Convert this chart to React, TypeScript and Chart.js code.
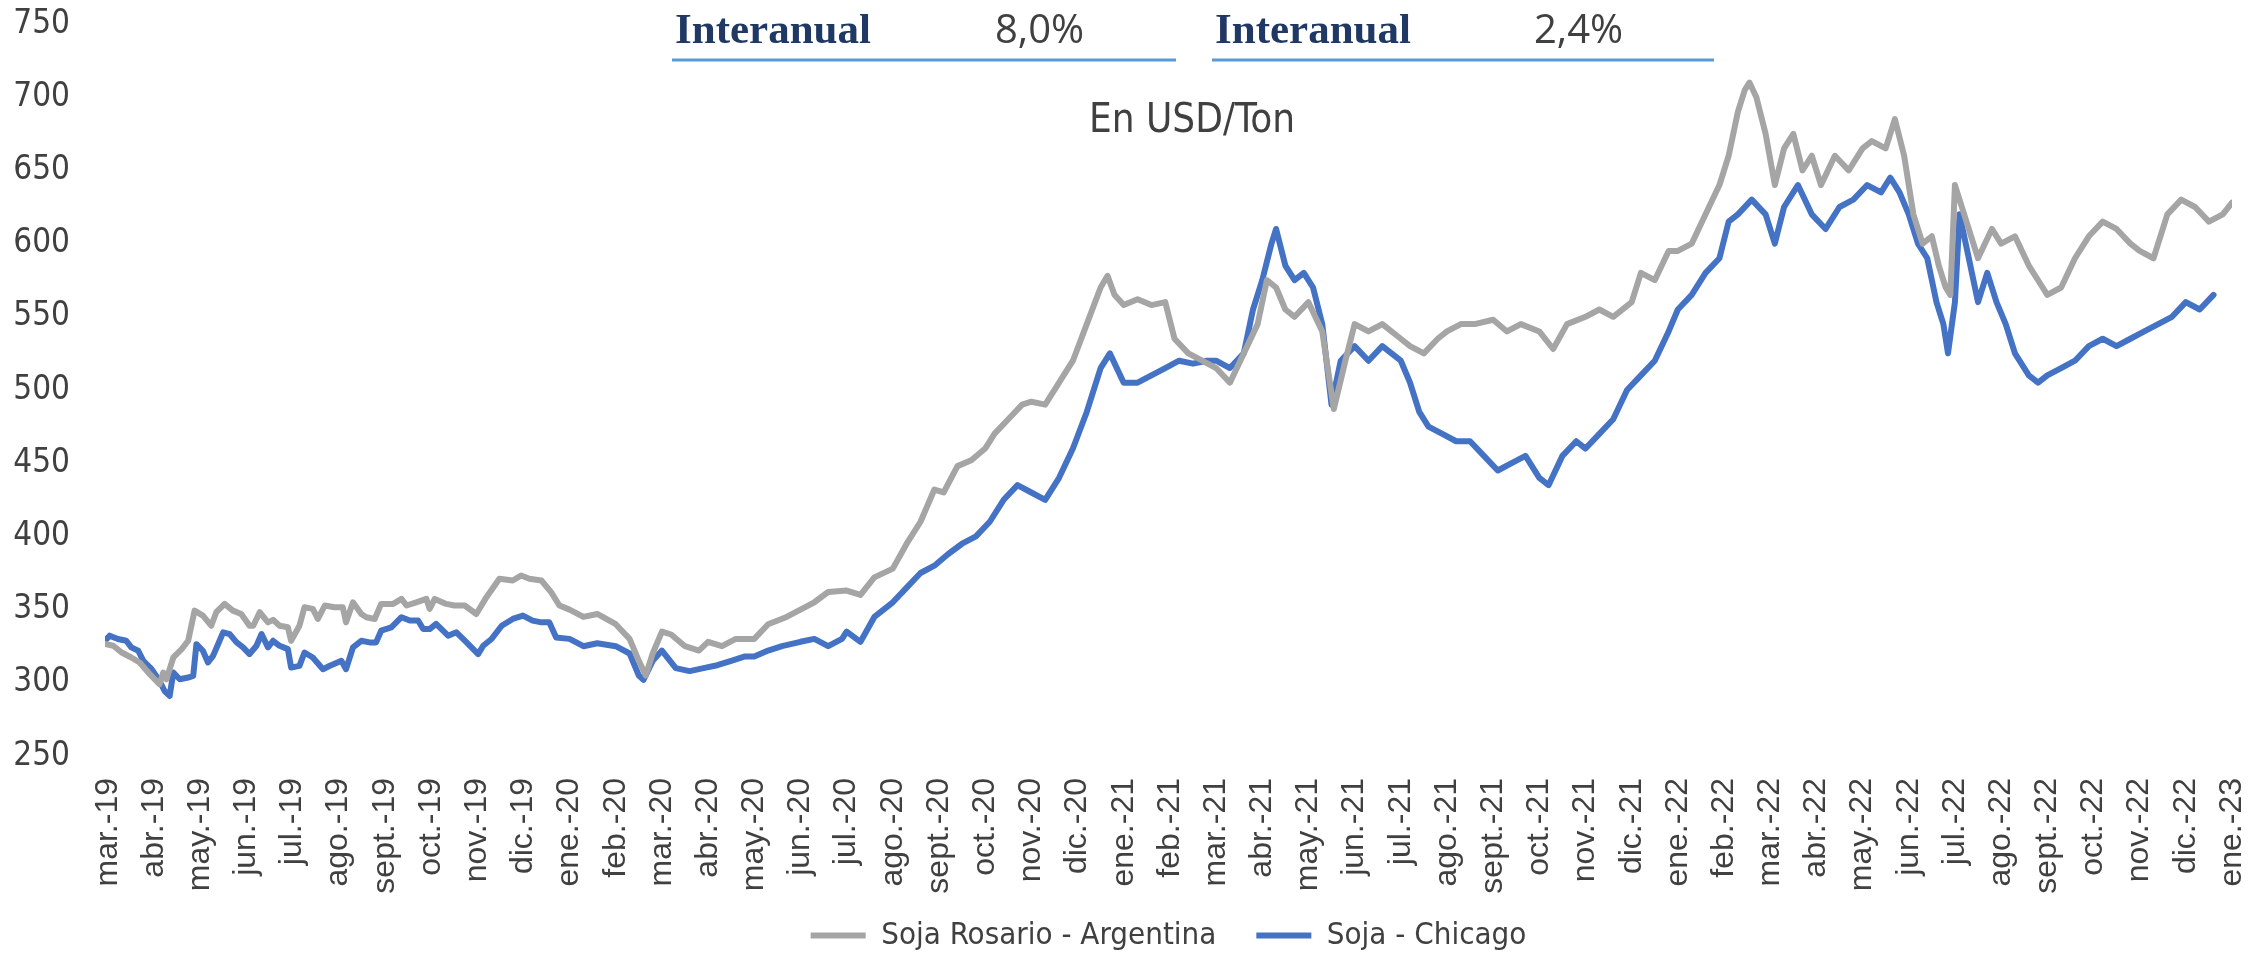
import React, { useEffect, useRef } from "react";
import { Chart, registerables } from "chart.js";
Chart.register(...registerables);

const monthLabels = [
  "mar.-19","abr.-19","may.-19","jun.-19","jul.-19","ago.-19","sept.-19","oct.-19","nov.-19","dic.-19","ene.-20","feb.-20",
  "mar.-20","abr.-20","may.-20","jun.-20","jul.-20","ago.-20","sept.-20","oct.-20","nov.-20","dic.-20","ene.-21","feb.-21",
  "mar.-21","abr.-21","may.-21","jun.-21","jul.-21","ago.-21","sept.-21","oct.-21","nov.-21","dic.-21","ene.-22","feb.-22",
  "mar.-22","abr.-22","may.-22","jun.-22","jul.-22","ago.-22","sept.-22","oct.-22","nov.-22","dic.-22","ene.-23"
];

const seriesNames = ["Soja Rosario - Argentina", "Soja - Chicago"];
const seriesColors = ["#A5A5A5", "#4472C4"];
const yMin = 250;
const yMax = 750;
const yStep = 50;
const headerLabel = "Interanual";
const headerValues = ["8,0%", "2,4%"];
const unitTitle = "En USD/Ton";

// time position in months since start of March 2019
const rosarioT = [
  -0.06,0.12,0.30,0.51,0.69,0.91,1.12,1.20,1.27,1.42,1.60,1.74,1.88,2.06,2.24,2.35,2.53,2.71,2.89,3.07,3.15,3.29,3.47,3.58,3.72,3.90,3.97,
  4.15,4.26,4.44,4.55,4.70,4.91,5.09,5.16,5.31,5.49,5.60,5.78,5.92,6.18,6.36,6.47,6.68,6.90,6.97,7.08,7.33,7.51,7.73,7.98,8.20,8.48,8.77,
  8.95,9.13,9.39,9.60,9.78,
  10.0,10.3,10.6,11.0,11.3,11.5,11.65,11.8,12.0,12.2,12.5,12.8,13.0,13.3,13.6,14.0,14.3,14.7,15.0,15.3,15.6,16.0,16.3,16.6,17.0,17.3,17.6,
  17.9,18.1,18.4,18.7,19.0,19.2,19.5,19.8,20.0,20.3,20.6,20.9,21.2,21.5,21.65,21.8,22.0,22.3,22.6,22.9,23.1,23.4,23.7,24.0,24.3,24.6,24.9,
  25.1,25.3,25.5,25.7,26.0,26.3,26.55,26.8,27.0,27.3,27.6,28.0,28.2,28.5,28.8,29.0,29.3,29.6,30.0,30.3,30.6,31.0,31.3,31.6,32.0,32.3,32.6,
  33.0,33.2,33.5,33.8,34.0,34.3,34.6,34.9,35.1,35.3,35.45,35.55,35.7,35.9,36.1,36.3,36.5,36.7,36.9,37.1,37.4,37.7,38.0,38.2,38.5,38.7,38.9,
  39.1,39.3,39.5,39.65,39.8,39.9,40.0,40.2,40.5,40.8,41.0,41.3,41.6,41.9,42.0,42.3,42.6,42.9,43.2,43.5,43.8,44.0,44.3,44.6,44.9,45.2,45.5,
  45.8,46.0
];
const rosarioV = [
  326.5,325.3,320.7,317.3,313.9,305.9,299,307,302.4,317.3,323,328.7,349.3,345.9,339,348.2,353.9,349.3,347,339,339,348.2,341.3,343,339,337.9,328.7,
  339,351.6,350.5,343.6,352.8,351.6,351.6,341.3,355,347,344.8,343.6,353.9,353.9,357.3,352.8,355,357.3,350.5,357.3,353.9,352.8,352.8,347,358.5,371.1,369.9,
  373.3,371.1,369.9,361.9,352.8,
  350,345,347,340,330,315,305,320,335,333,325,322,328,325,330,330,340,345,350,355,362,363,360,372,378,395,410,
  432,430,448,452,460,470,480,490,492,490,505,520,545,570,578,565,558,562,558,560,535,525,520,515,505,525,545,
  575,570,555,550,560,540,487,520,545,540,545,535,530,525,535,540,545,545,548,540,545,540,528,545,550,555,550,
  560,580,575,595,595,600,620,640,660,690,705,710,700,675,640,665,675,650,660,640,660,650,665,670,665,685,660,
  620,600,605,585,570,565,640,620,590,610,600,605,585,570,565,570,590,605,615,610,600,595,590,620,630,625,615,
  620,628
];

const chicagoT = [
  -0.06,0.04,0.22,0.40,0.51,0.66,0.77,0.95,1.12,1.23,1.34,1.42,1.56,1.74,1.85,1.92,2.06,2.17,2.28,2.50,2.64,2.79,2.93,3.07,3.22,3.33,3.47,
  3.58,3.72,3.90,3.97,4.15,4.26,4.44,4.66,4.81,5.06,5.16,5.31,5.49,5.67,5.81,5.92,6.14,6.36,6.54,6.72,6.83,6.97,7.11,7.37,7.55,7.77,8.02,
  8.13,8.31,8.53,8.77,8.99,9.20,9.39,9.56,9.71,
  10.0,10.3,10.6,11.0,11.3,11.5,11.6,11.8,12.0,12.3,12.6,12.9,13.2,13.5,13.8,14.0,14.3,14.6,15.0,15.3,15.6,15.9,16.0,16.3,16.6,17.0,17.3,
  17.6,17.9,18.2,18.5,18.8,19.1,19.4,19.7,20.0,20.3,20.6,20.9,21.2,21.5,21.7,22.0,22.3,22.6,22.9,23.2,23.5,23.8,24.0,24.3,24.6,24.8,25.0,
  25.2,25.3,25.5,25.7,25.9,26.1,26.3,26.5,26.7,27.0,27.3,27.6,28.0,28.2,28.4,28.6,28.9,29.2,29.5,29.8,30.1,30.4,30.7,31.0,31.2,31.5,31.8,
  32.0,32.3,32.6,32.9,33.2,33.5,33.8,34.0,34.3,34.6,34.9,35.1,35.3,35.6,35.9,36.1,36.3,36.6,36.9,37.2,37.5,37.8,38.1,38.4,38.6,38.8,39.0,
  39.2,39.4,39.6,39.75,39.85,40.0,40.1,40.3,40.5,40.7,40.9,41.1,41.3,41.6,41.8,42.0,42.3,42.6,42.9,43.2,43.5,43.8,44.1,44.4,44.7,45.0,45.3,45.6,
  46.0
];
const chicagoV = [
  328.7,332.2,329.9,328.7,324.2,321.9,315,309.3,301.3,294.4,291,307,302.4,303.6,304.7,326.4,321.9,313.9,318.4,334.5,333.3,327.6,324.2,319.6,325.3,333.3,324.2,
  328.7,325.3,323,310.4,311.6,320.7,317.3,309.3,311.6,315,309.3,324.2,328.7,327.6,327.6,335.6,337.9,344.8,342.5,342.5,336.7,336.7,340.2,332.2,334.5,327.6,319.6,
  325.3,329.9,339,343.6,345.9,342.5,341.3,341.3,331,
  330,325,327,325,320,305,302,315,322,310,308,310,312,315,318,318,322,325,328,330,325,330,335,328,345,355,365,
  375,380,388,395,400,410,425,435,430,425,440,460,485,515,525,505,505,510,515,520,518,520,520,515,525,555,575,
  600,610,585,575,580,570,545,490,520,530,520,530,520,505,485,475,470,465,465,455,445,450,455,440,435,455,465,
  460,470,480,500,510,520,540,555,565,580,590,615,620,630,620,600,625,640,620,610,625,630,640,635,645,635,620,
  600,590,560,545,525,560,620,590,560,580,560,545,525,510,505,510,515,520,530,535,530,535,540,545,550,560,555,
  565
];

function toPoints(t: number[], v: number[]) {
  return t.map((x, i) => ({ x, y: v[i] }));
}

const headerPlugin = {
  id: "headerPlugin",
  afterDraw(chart: any) {
    const ctx = chart.ctx;
    ctx.save();
    const blocks = [
      { x0: 672, x1: 1176, labelX: 675, valueX: 995, value: headerValues[0] },
      { x0: 1212, x1: 1714, labelX: 1215, valueX: 1534, value: headerValues[1] },
    ];
    ctx.textBaseline = "alphabetic";
    ctx.textAlign = "left";
    for (const b of blocks) {
      ctx.fillStyle = "#1F3864";
      ctx.font = "bold 43px 'Liberation Serif'";
      ctx.fillText(headerLabel, b.labelX, 43);
      ctx.fillStyle = "#404040";
      ctx.font = "40px 'Open Sans'";
      ctx.fillText(b.value, b.valueX, 43);
      ctx.strokeStyle = "#5B9BD5";
      ctx.lineWidth = 3;
      ctx.beginPath();
      ctx.moveTo(b.x0, 60);
      ctx.lineTo(b.x1, 60);
      ctx.stroke();
    }
    ctx.fillStyle = "#404040";
    ctx.font = "40px 'DejaVu Sans Condensed'";
    ctx.textAlign = "center";
    ctx.textBaseline = "middle";
    ctx.fillText(unitTitle, 1192, 122);
    ctx.restore();
  },
};

const layoutTweak = {
  id: "layoutTweak",
  afterLayout(chart: any) {
    if (chart.legend) {
      chart.legend.top += 7;
      chart.legend.bottom += 7;
    }
    const x = chart.scales.x;
    if (x) {
      x.bottom = x.top + 150;
    }
  },
};

export default function App() {
  const ref = useRef<HTMLCanvasElement | null>(null);
  useEffect(() => {
    if (!ref.current) return;
    const chart = new Chart(ref.current, {
      type: "line",
      data: {
        datasets: [
          {
            label: seriesNames[0],
            data: toPoints(rosarioT, rosarioV),
            borderColor: seriesColors[0],
            backgroundColor: seriesColors[0],
            borderWidth: 6,
            pointRadius: 0,
            tension: 0,
            borderJoinStyle: "round",
            borderCapStyle: "round",
          },
          {
            label: seriesNames[1],
            data: toPoints(chicagoT, chicagoV),
            borderColor: seriesColors[1],
            backgroundColor: seriesColors[1],
            borderWidth: 6,
            pointRadius: 0,
            tension: 0,
            borderJoinStyle: "round",
            borderCapStyle: "round",
          },
        ],
      },
      options: {
        responsive: false,
        animation: false,
        devicePixelRatio: 1,
        layout: { padding: { top: 24, right: 17, left: 0, bottom: 0 } },
        plugins: {
          tooltip: { enabled: false },
          legend: {
            position: "bottom",
            fullSize: false,
            labels: {
              boxWidth: 55,
              boxHeight: 6,
              padding: 40,
              color: "#404040",
              font: { family: "'DejaVu Sans Condensed'", size: 31 },
              generateLabels: (c: any) =>
                c.data.datasets.map((d: any, i: number) => ({
                  text: d.label,
                  fillStyle: d.borderColor,
                  strokeStyle: d.borderColor,
                  lineWidth: 0,
                  hidden: false,
                  datasetIndex: i,
                  fontColor: "#404040",
                })),
            },
          },
        },
        scales: {
          x: {
            type: "linear",
            min: rosarioT[0],
            max: rosarioT[rosarioT.length - 1],
            grid: { display: false, drawTicks: false },
            border: { display: false },
            afterBuildTicks: (s: any) => {
              s.ticks = monthLabels.map((_, i) => ({ value: i }));
            },
            afterFit: (s: any) => {
              s.height = 117;
              s.paddingLeft = 0;
              s.paddingRight = 0;
            },
            ticks: {
              autoSkip: false,
              minRotation: 90,
              maxRotation: 90,
              padding: 22,
              color: "#404040",
              font: { family: "'Liberation Sans'", size: 32 },
              callback: (v: any) => monthLabels[Math.round(v)] ?? "",
            },
          },
          y: {
            min: yMin,
            max: yMax,
            grid: { display: false, drawTicks: false },
            border: { display: false },
            afterFit: (s: any) => {
              s.width = 105;
              s.paddingTop = 0;
              s.paddingBottom = 0;
            },
            ticks: {
              stepSize: yStep,
              padding: 35,
              color: "#404040",
              font: { family: "'DejaVu Sans Condensed'", size: 33 },
            },
          },
        },
      },
      plugins: [headerPlugin, layoutTweak],
    });
    return () => chart.destroy();
  }, []);
  return (
    <div style={{ position: "fixed", left: 0, top: 0, width: 2249, height: 954, background: "#fff" }}>
      <canvas ref={ref} width={2249} height={954} />
    </div>
  );
}
